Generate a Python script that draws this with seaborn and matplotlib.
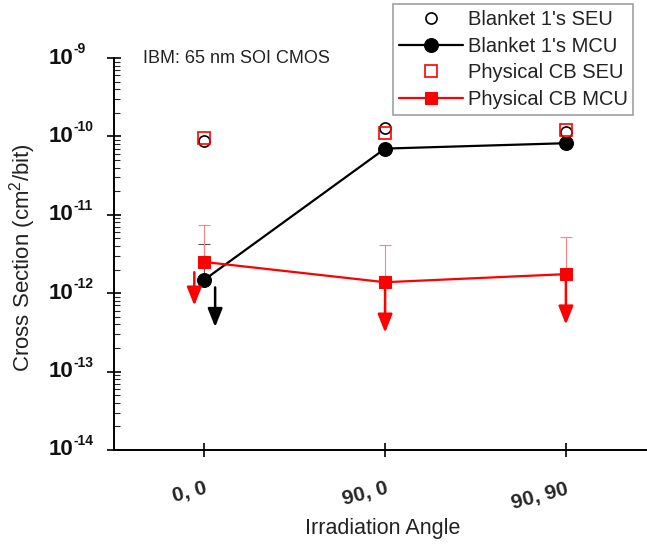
import matplotlib
matplotlib.use("Agg")
import matplotlib.pyplot as plt
import seaborn as sns
import numpy as np
import pandas as pd

angles = ["0, 0", "90, 0", "90, 90"]
blanket_seu = [8.8e-11, 1.3e-10, 1.15e-10]
blanket_mcu = [1.48e-12, 7.0e-11, 8.2e-11]
blanket_mcu_err_top = [4.3e-12, None, None]
cb_seu = [9.5e-11, 1.1e-10, 1.2e-10]
cb_mcu = [2.5e-12, 1.38e-12, 1.75e-12]
cb_mcu_err_top = [7.4e-12, 4.1e-12, 5.2e-12]
blanket_arrows = [0]
cb_arrows = [0, 1, 2]
y_exponents = [-14, -13, -12, -11, -10, -9]

sns.set_style("ticks")
plt.rcParams['font.family'] = ['Liberation Sans', 'DejaVu Sans']
plt.rcParams['mathtext.fontset'] = 'custom'
plt.rcParams['mathtext.rm'] = 'Liberation Sans'
plt.rcParams['mathtext.bf'] = 'Liberation Sans:bold'
plt.rcParams['mathtext.it'] = 'Liberation Sans:italic'
plt.rcParams['axes.unicode_minus'] = False

fig = plt.figure(figsize=(6.47, 5.48), dpi=100)
ax = fig.add_axes([0.176, 0.179, 0.83, 0.715])

x = np.arange(len(angles))
df = pd.DataFrame({"x": np.tile(x, 4),
                   "y": blanket_seu + blanket_mcu + cb_seu + cb_mcu,
                   "series": (["Blanket 1's SEU"] * 3 + ["Blanket 1's MCU"] * 3 +
                              ["Physical CB SEU"] * 3 + ["Physical CB MCU"] * 3)})

for xi, (v, t) in enumerate(zip(blanket_mcu, blanket_mcu_err_top)):
    if t is not None:
        ax.errorbar([xi], [v], yerr=[[0], [t - v]], fmt='none', ecolor='#555555',
                    elinewidth=0.8, capsize=4, capthick=0.8, zorder=2)
for xi, (v, t) in enumerate(zip(cb_mcu, cb_mcu_err_top)):
    if t is not None:
        ax.errorbar([xi], [v], yerr=[[0], [t - v]], fmt='none', ecolor='#ff8080',
                    elinewidth=0.8, capsize=4, capthick=0.8, zorder=2)

d = df[df.series == "Blanket 1's MCU"]
sns.lineplot(data=d, x="x", y="y", ax=ax, color='black', lw=1.6, marker='o',
             markersize=10, markeredgecolor='black', label="Blanket 1's MCU", zorder=3)
d = df[df.series == "Physical CB MCU"]
sns.lineplot(data=d, x="x", y="y", ax=ax, color='red', lw=1.6, marker='s',
             markersize=9, markeredgecolor='red', label="Physical CB MCU", zorder=3)
d = df[df.series == "Blanket 1's SEU"]
ax.plot(d.x, d.y, 'o', mfc='white', mec='black', ms=8, mew=1.2, ls='none',
        label="Blanket 1's SEU", zorder=4)
d = df[df.series == "Physical CB SEU"]
ax.plot(d.x, d.y, 's', mfc='none', mec='red', ms=8, mew=1.2, ls='none',
        label="Physical CB SEU", zorder=5)

astyle = '-|>,head_length=0.7,head_width=0.28'
for xi in blanket_arrows:
    ax.annotate("", xy=(xi + 0.06, blanket_mcu[xi] / 4.0), xytext=(xi + 0.06, blanket_mcu[xi] / 1.25),
                arrowprops=dict(arrowstyle=astyle, color='black',
                                lw=1.8, mutation_scale=16, shrinkA=0, shrinkB=0))
for xi in cb_arrows:
    dx = -0.055 if xi == 0 else 0.0
    top = cb_mcu[xi] / 1.35 if xi == 0 else cb_mcu[xi] / 1.15
    ax.annotate("", xy=(xi + dx, cb_mcu[xi] / (3.6 if xi == 0 else 4.4)), xytext=(xi + dx, top),
                arrowprops=dict(arrowstyle=astyle, color='red',
                                lw=1.8, mutation_scale=16, shrinkA=0, shrinkB=0))

ax.set_yscale('log')
ax.set_ylim(1e-14, 1e-9)
ax.set_xlim(-0.5, 2.47)
ax.set_xticks(x)
ax.set_xticklabels(angles, rotation=15, fontweight='bold', fontsize=15,
                   ha='right', va='top', rotation_mode='anchor')
yt = [10.0 ** e for e in y_exponents]
ax.set_yticks(yt)
ax.set_yticklabels([""] * len(yt))
for e, v in zip(y_exponents, yt):
    ax.annotate("10", xy=(0, v), xycoords=('axes fraction', 'data'),
                xytext=(-29, 0), textcoords='offset points', ha='right', va='center',
                fontsize=16, fontweight='bold', color='#111111')
    ax.annotate(str(e), xy=(0, v), xycoords=('axes fraction', 'data'),
                xytext=(-29, 6.5), textcoords='offset points', ha='left', va='center',
                fontsize=10, fontweight='bold', color='#111111')
ax.yaxis.set_minor_locator(matplotlib.ticker.LogLocator(base=10, subs=np.arange(2, 10), numticks=20))
ax.yaxis.set_minor_formatter(matplotlib.ticker.NullFormatter())
ax.tick_params(axis='both', which='major', direction='inout', length=10, width=1.2, color='black')
ax.tick_params(axis='y', which='minor', direction='in', length=4, width=0.8)
ax.tick_params(axis='x', pad=16)
for s in ['top', 'right']:
    ax.spines[s].set_visible(False)
for s in ['left', 'bottom']:
    ax.spines[s].set_color('black')
    ax.spines[s].set_linewidth(1.4)

ax.set_xlabel("Irradiation Angle", fontsize=15.5, color='#222222', labelpad=4)
ax.set_ylabel("Cross Section (cm$^2$/bit)", fontsize=16, color='#222222')
ax.yaxis.set_label_coords(-0.142, 0.49)

ax.text(0.055, 1.0, "IBM: 65 nm SOI CMOS", transform=ax.transAxes, fontsize=13,
        va='center', ha='left', color='#222222')

handles, labels = ax.get_legend_handles_labels()
order = ["Blanket 1's SEU", "Blanket 1's MCU", "Physical CB SEU", "Physical CB MCU"]
hmap = dict(zip(labels, handles))
leg = fig.legend([hmap[o] for o in order], order, loc='upper left',
                 bbox_to_anchor=(393 / 647, 1 - 4 / 548), fontsize=14.5, frameon=True,
                 fancybox=False, edgecolor='#888888', handlelength=3.2, borderpad=0.3,
                 labelspacing=0.38, handletextpad=0.2, borderaxespad=0)
leg.get_frame().set_linewidth(1.2)
for t in leg.get_texts():
    t.set_color('#222222')
if ax.get_legend() is not None:
    ax.get_legend().remove()

fig.savefig("out.png", dpi=100)
